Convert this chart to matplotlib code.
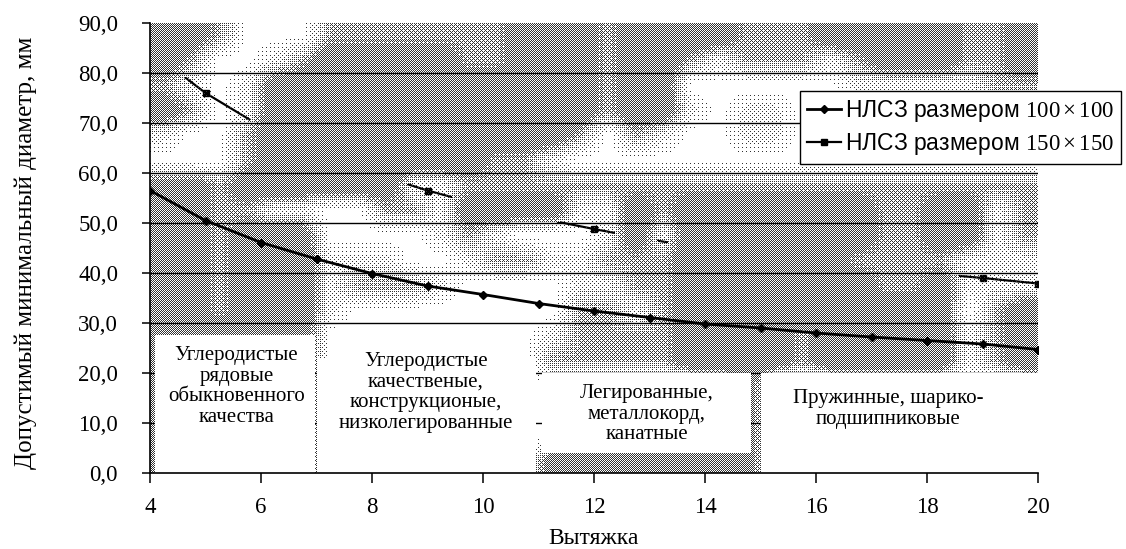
import numpy as np
import matplotlib
matplotlib.use("Agg")
import matplotlib.pyplot as plt
from matplotlib.patches import Rectangle
from matplotlib.ticker import FuncFormatter

# ---------------- data ----------------
draw_ratio = [4, 5, 6, 7, 8, 9, 10, 11, 12, 13, 14, 15, 16, 17, 18, 19, 20]
d_100 = [56.5, 50.5, 46.1, 42.8, 39.9, 37.4, 35.7, 33.9, 32.4, 31.1, 29.8, 29.0, 28.0, 27.2, 26.5, 25.8, 24.7]
d_150 = [84.5, 76.0, 69.3, 64.0, 60.0, 56.5, 53.5, 51.0, 48.8, 46.7, 45.0, 43.5, 42.0, 41.0, 40.0, 39.0, 37.9]
series_labels = [r"НЛСЗ размером $\mathrm{100}\times\mathrm{100}$",
                 r"НЛСЗ размером $\mathrm{150}\times\mathrm{150}$"]
x_ticks = [4, 6, 8, 10, 12, 14, 16, 18, 20]
y_ticks = [0, 10, 20, 30, 40, 50, 60, 70, 80, 90]
x_label = "Вытяжка"
y_label = "Допустимый минимальный диаметр, мм"
group_texts = ["Углеродистые\nрядовые\nобыкновенного\nкачества",
               "Углеродистые\nкачественые,\nконструкционые,\nнизколегированные",
               "Легированные,\nметаллокорд,\nканатные",
               "Пружинные, шарико-\nподшипниковые"]

# ---------------- style ----------------
plt.rcParams['font.family'] = ['Liberation Serif', 'DejaVu Serif']
plt.rcParams['mathtext.fontset'] = 'custom'
plt.rcParams['mathtext.rm'] = 'Liberation Serif'
plt.rcParams['mathtext.it'] = 'Liberation Serif:italic'

W_PX, H_PX = 1126, 549
fig = plt.figure(figsize=(W_PX / 100, H_PX / 100), dpi=100)
ax_l, ax_r, ax_t, ax_b = 150, 1038, 23, 473
ax = fig.add_axes([ax_l / W_PX, 1 - ax_b / H_PX, (ax_r - ax_l) / W_PX, (ax_b - ax_t) / H_PX])
ax.set_xlim(4, 20)
ax.set_ylim(0, 90)

# ---------------- scanned dithered background (decoration) ----------------
bg_rows = [
    "##+...+++++++###+####+++#####++#",
    "#+..-+#####++###+##+-+++-+###++#",
    "+-.-############+##......-----++",
    "#+.-############+##-.--.........",
    "-..+###########+.+-..--.........",
    "...+########++-.................",
    "##+######--+++++++++++++++++++++",
    "##++--..++-####--#+#######++##-+",
    "##+###....-+-...-#-#######++##-+",
    "##+###---..-++--+++######++++---",
    "##+###-+++-....--++#######++#---",
    "##+###-........++-+##########.+#",
    "######........-++++####+#####-+#",
    "######........+++++####+#####-+#",
    "######...............#..........",
    "######...............#..........",
    "######...............#..........",
    "######........########..........",
]
lvl = {'#': 1.0, '+': 0.6, '-': 0.25, '.': 0.0}
M = np.array([[lvl[c] for c in r] for r in bg_rows])
nr, nc = M.shape
Wi, Hi = int(round(ax_r - ax_l)), int(round(ax_b - ax_t))
xs = 4 + (np.arange(Wi) + 0.5) / Wi * 16
ys = 90 - (np.arange(Hi) + 0.5) / Hi * 90
xc = 4 + 0.5 * (np.arange(nc) + 0.5)
yc = 90 - 5 * (np.arange(nr) + 0.5)
D1 = np.array([np.interp(xs, xc, M[j]) for j in range(nr)])
D = np.array([np.interp(ys, yc[::-1], D1[::-1, k]) for k in range(Wi)]).T
D = np.where(D >= 0.45, np.minimum(1.0, 0.45 + (D - 0.45) * 1.8), D)
bayer = np.array([[0, 8, 2, 10], [12, 4, 14, 6], [3, 11, 1, 9], [15, 7, 13, 5]])
thr = (np.tile(bayer, (Hi // 4 + 1, Wi // 4 + 1))[:Hi, :Wi] + 0.5) / 16
dark = thr < 0.5 * D
opaque = D >= 0.45
img = np.zeros((Hi, Wi, 4))
img[opaque] = [1, 1, 1, 1]
img[dark] = [0.2, 0.2, 0.2, 1]
ax.imshow(img, extent=(4, 20, 0, 90), aspect='auto', interpolation='nearest',
          origin='upper', zorder=1)

# ---------------- series ----------------
ax.plot(draw_ratio, d_150, color='black', lw=1.6, marker='s', ms=4.5,
        label=series_labels[1], zorder=0.8)
ax.plot(draw_ratio, d_100, color='black', lw=2.0, marker='D', ms=3.8,
        label=series_labels[0], zorder=6)

# ---------------- grid ----------------
ax.set_yticks(y_ticks)
ax.set_xticks(x_ticks)
ax.set_axisbelow(False)
ax.yaxis.grid(True, color='black', lw=1.0)
ax.get_ygridlines()[-1].set_visible(False)
ax.get_ygridlines()[0].set_visible(False)

# ---------------- group boxes ----------------
boxes = [(4.09, 0.0, 6.97, 27.7), (7.0, 0.0, 10.95, 23.0),
         (11.07, 4.0, 14.83, 20.1), (15.0, 0.0, 20.0, 20.1)]
for (x0, y0, x1, y1) in boxes:
    ax.add_patch(Rectangle((x0, y0), x1 - x0, y1 - y0, facecolor='white',
                           edgecolor='none', zorder=3))
text_pos = [(5.56, 17.3), (8.97, 16.1), (12.95, 11.8), (17.3, 12.8)]
for (tx, ty), t in zip(text_pos, group_texts):
    ax.text(tx, ty, t, ha='center', va='center', fontsize=15,
            linespacing=1.12, zorder=4)

# ---------------- axes styling ----------------
for s in ['top', 'right']:
    ax.spines[s].set_visible(False)
for s in ['left', 'bottom']:
    ax.spines[s].set_linewidth(1.2)
    ax.spines[s].set_zorder(5)
ax.tick_params(axis='y', direction='out', length=6, width=1.1, pad=17, labelsize=16.5)
ax.tick_params(axis='x', direction='out', length=7, width=1.1, pad=10, labelsize=16.5)
ax.yaxis.set_major_formatter(FuncFormatter(lambda v, p: f"{v:.1f}".replace('.', ',')))
ax.set_xlabel(x_label, fontsize=17)
ax.xaxis.set_label_coords(0.5, -(528 - ax_b) / (ax_b - ax_t))
ax.set_ylabel(y_label, fontsize=18)
ax.yaxis.set_label_coords(-(ax_l - 37) / (ax_r - ax_l), 0.49)

# ---------------- legend ----------------
h, l = ax.get_legend_handles_labels()
leg = ax.legend(h[::-1], l[::-1], loc='upper left',
                bbox_to_anchor=(800 / W_PX, 1 - 91 / H_PX),
                bbox_transform=fig.transFigure, borderaxespad=0,
                prop={'family': ['Liberation Sans'], 'size': 16.5},
                fancybox=False, edgecolor='black', framealpha=1,
                handlelength=1.5, handletextpad=0.15, labelspacing=0.3,
                borderpad=0.3)
leg.get_frame().set_linewidth(1.0)
leg.set_zorder(7)

fig.savefig("out.png", dpi=100)
